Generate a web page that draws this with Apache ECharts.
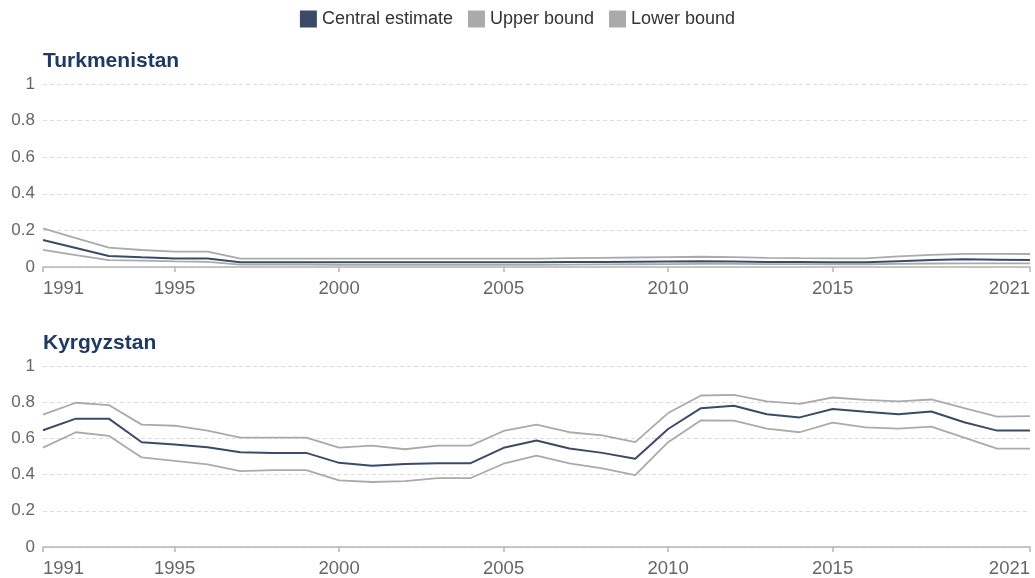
<!DOCTYPE html>
<html>
<head>
<meta charset="utf-8">
<script src="https://cdn.jsdelivr.net/npm/echarts@6/dist/echarts.min.js"></script>
<style>
  html, body { margin: 0; padding: 0; background: #fff; }
  #chart { width: 1035px; height: 578px; }
</style>
</head>
<body>
<div id="chart"></div>
<script>
// Years on the x axis
const years = [];
for (let y = 1991; y <= 2021; y++) years.push(y);

const xTickYears = [1991, 1995, 2000, 2005, 2010, 2015, 2021];

// Turkmenistan
const tkmCentral = [0.148,0.104,0.060,0.053,0.047,0.047,0.026,0.026,0.026,0.026,0.026,0.026,0.026,0.026,0.026,0.026,0.027,0.028,0.029,0.030,0.031,0.030,0.028,0.027,0.026,0.026,0.032,0.038,0.042,0.040,0.038];
const tkmUpper   = [0.211,0.158,0.106,0.093,0.084,0.084,0.046,0.046,0.046,0.046,0.046,0.046,0.046,0.046,0.046,0.046,0.048,0.050,0.052,0.054,0.056,0.054,0.050,0.048,0.047,0.047,0.058,0.066,0.072,0.072,0.071];
const tkmLower   = [0.093,0.065,0.038,0.035,0.031,0.028,0.013,0.013,0.013,0.012,0.012,0.012,0.012,0.012,0.012,0.012,0.013,0.014,0.015,0.016,0.017,0.017,0.016,0.016,0.015,0.015,0.017,0.019,0.020,0.020,0.020];

// Kyrgyzstan
const kgzCentral = [0.645,0.709,0.709,0.579,0.566,0.551,0.524,0.520,0.520,0.465,0.449,0.458,0.463,0.463,0.548,0.588,0.544,0.520,0.487,0.652,0.767,0.780,0.733,0.716,0.762,0.747,0.734,0.749,0.689,0.643,0.643];
const kgzUpper   = [0.731,0.797,0.784,0.676,0.670,0.643,0.604,0.604,0.604,0.549,0.560,0.540,0.560,0.560,0.641,0.676,0.634,0.617,0.579,0.740,0.837,0.841,0.804,0.791,0.826,0.813,0.804,0.815,0.767,0.720,0.723];
const kgzLower   = [0.549,0.634,0.614,0.495,0.476,0.456,0.419,0.425,0.425,0.368,0.359,0.364,0.381,0.381,0.460,0.505,0.462,0.434,0.397,0.579,0.700,0.698,0.654,0.634,0.687,0.661,0.654,0.665,0.604,0.544,0.544];

const panels = [
  { name: 'Turkmenistan', central: tkmCentral, upper: tkmUpper, lower: tkmLower },
  { name: 'Kyrgyzstan', central: kgzCentral, upper: kgzUpper, lower: kgzLower }
];

const centralColor = '#3a4b69';
const boundColor = '#aaaaaa';
const font = 'Liberation Sans, Arial, Helvetica, sans-serif';

const grids = [
  { left: 43, right: 5, top: 84, height: 183 },
  { left: 43, right: 5, top: 366, height: 182 }
];

const pairs = v => years.map((y, i) => [y, v[i]]);

const xAxes = grids.map((g, i) => ({
  type: 'value', gridIndex: i, min: 1991, max: 2021,
  axisLine: { show: true, lineStyle: { color: '#b5b5b5', width: 1.5 } },
  axisTick: { show: true, customValues: xTickYears, length: 5, lineStyle: { color: '#b5b5b5', width: 1.5 } },
  axisLabel: {
    customValues: xTickYears, color: '#666', fontSize: 18.5, fontFamily: font, margin: 12,
    alignMinLabel: 'left', alignMaxLabel: 'right',
    formatter: v => String(v)
  },
  splitLine: { show: false }
}));

const yAxes = grids.map((g, i) => ({
  type: 'value', gridIndex: i, min: 0, max: 1, interval: 0.2,
  axisLine: { show: false }, axisTick: { show: false },
  axisLabel: { color: '#666', fontSize: 17, fontFamily: font, margin: 8,
    formatter: v => String(Math.round(v * 10) / 10) },
  splitLine: { show: true, lineStyle: { color: '#dcdcdc', type: [4, 3], width: 1 } }
}));

const series = [];
panels.forEach((p, i) => {
  const base = { type: 'line', xAxisIndex: i, yAxisIndex: i, symbol: 'none', animation: false };
  series.push(Object.assign({}, base, { name: 'Upper bound', data: pairs(p.upper), z: 2,
    lineStyle: { color: boundColor, width: 1.8 }, itemStyle: { color: boundColor } }));
  series.push(Object.assign({}, base, { name: 'Lower bound', data: pairs(p.lower), z: 2,
    lineStyle: { color: boundColor, width: 1.8 }, itemStyle: { color: boundColor } }));
  series.push(Object.assign({}, base, { name: 'Central estimate', data: pairs(p.central), z: 3,
    lineStyle: { color: centralColor, width: 2 }, itemStyle: { color: centralColor } }));
});

const titles = [
  { text: 'Turkmenistan', left: 38, top: 46 },
  { text: 'Kyrgyzstan', left: 38, top: 328 }
].map(t => Object.assign(t, { textStyle: { color: '#1e3a62', fontSize: 21, fontWeight: 'bold', fontFamily: font } }));

const chart = echarts.init(document.getElementById('chart'), null, { renderer: 'canvas' });
chart.setOption({
  animation: false,
  title: titles,
  legend: {
    top: 5, left: 'center',
    data: ['Central estimate', 'Upper bound', 'Lower bound'],
    icon: 'rect', itemWidth: 17, itemHeight: 17, itemGap: 15,
    textStyle: { color: '#333', fontSize: 18, fontFamily: font }
  },
  grid: grids,
  xAxis: xAxes,
  yAxis: yAxes,
  series: series
});
</script>
</body>
</html>
